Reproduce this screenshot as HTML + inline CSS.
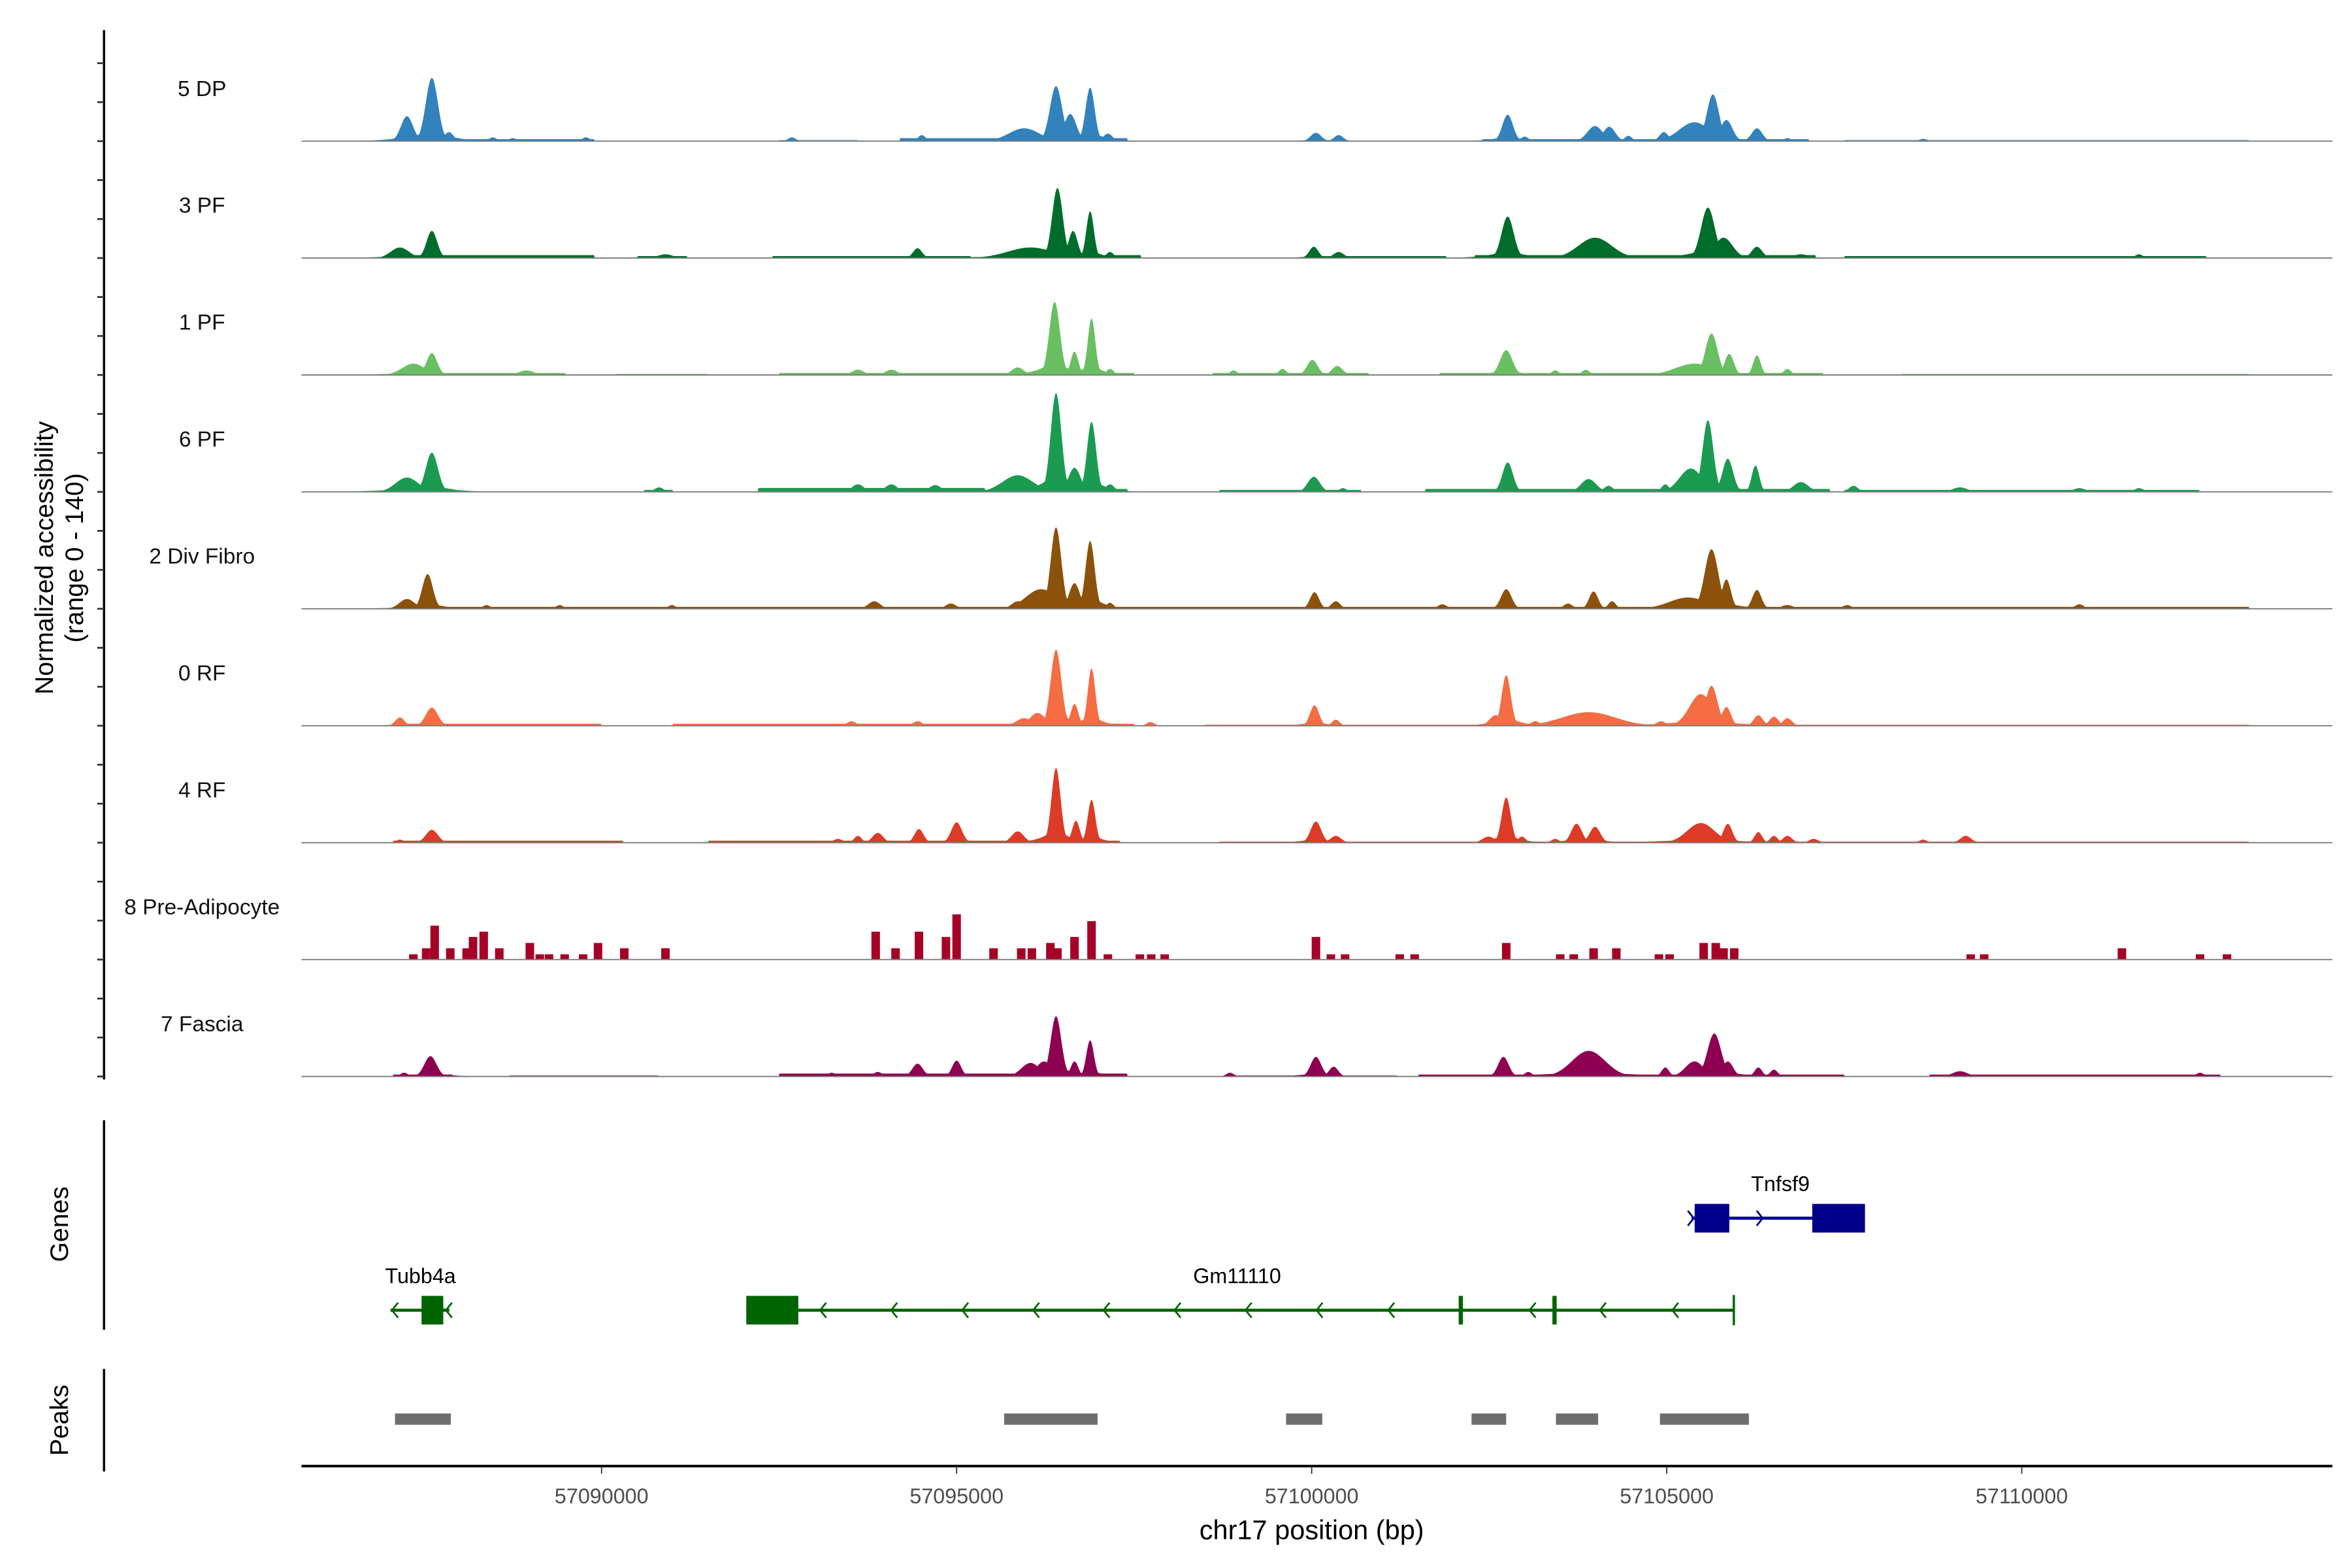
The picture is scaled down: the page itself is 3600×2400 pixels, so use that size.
<!DOCTYPE html>
<html><head><meta charset="utf-8"><style>
html,body{margin:0;padding:0;background:#fff}
svg{display:block}
text{font-family:"Liberation Sans",Arial,sans-serif}
</style></head><body>
<svg id="chart" width="3600" height="2400" viewBox="0 0 1560 1040" xmlns="http://www.w3.org/2000/svg">
<rect width="1560" height="1040" fill="#fff"/>
<g id="tracks"></g>
<g id="axes"></g>
<g id="genes"></g>
<g id="peaks"></g>
</svg>
<script>
const trackNames = ["5 DP","3 PF","1 PF","6 PF","2 Div Fibro","0 RF","4 RF","8 Pre-Adipocyte","7 Fascia"];
const trackColors = ["#3182bd","#006d2c","#6abf63","#1b9a52","#8c510a","#f46d43","#dc3b27","#a50026","#8e0152"];
// peaks: [position kb (offset from 57,000,000), value, width kb]
const dpPeaks = [[87.26,33,0.08],[87.61,84,0.08],[87.85,12,0.06],[88.47,5,0.05],[88.75,4,0.05],[89.78,5,0.05],[92.68,5,0.05],[94.51,8,0.05],[95.95,17,0.2],[96.40,73,0.08],[96.60,36,0.08],[96.88,71,0.06],[97.13,10,0.06],[100.06,11,0.07],[100.38,8,0.06],[102.76,35,0.07],[103.00,6,0.05],[103.99,20,0.1],[104.19,19,0.08],[104.46,7,0.05],[104.96,12,0.06],[105.39,25,0.2],[105.65,62,0.08],[105.84,28,0.08],[106.27,17,0.07],[106.70,4,0.05],[108.61,3,0.05]];
const dpBg = [[87.07,89.9,2],[92.5,93.6,1],[94.2,97.4,3],[99.9,100.5,1],[102.4,107.0,2],[107.5,113.2,1]];
const pf3Peaks = [[87.16,14,0.12],[87.61,36,0.07],[90.90,5,0.1],[94.45,13,0.06],[96.04,14,0.3],[96.42,93,0.07],[96.64,36,0.06],[96.88,62,0.05],[97.16,8,0.05],[100.03,15,0.06],[100.38,8,0.07],[102.76,55,0.08],[103.99,27,0.22],[105.58,67,0.09],[105.80,27,0.12],[106.27,15,0.07],[106.89,5,0.1],[111.65,5,0.05]];
const pf3Bg = [[87.07,89.9,3],[90.5,91.2,2],[92.4,95.2,2],[95.5,97.6,3],[99.9,101.9,2],[102.3,107.1,3],[107.5,112.6,2]];
const pf1Peaks = [[87.35,15,0.15],[87.61,29,0.07],[88.94,6,0.1],[93.61,7,0.08],[94.08,7,0.08],[95.86,10,0.08],[96.38,97,0.07],[96.66,31,0.05],[96.90,75,0.05],[97.16,8,0.05],[98.90,6,0.05],[99.59,8,0.05],[100.01,20,0.07],[100.36,12,0.07],[102.74,33,0.08],[103.43,6,0.05],[103.86,7,0.05],[105.39,15,0.25],[105.63,55,0.08],[105.88,28,0.06],[106.27,26,0.05],[106.70,8,0.05]];
const pf1Bg = [[87.07,89.5,2],[90.2,91.5,1],[92.5,97.5,2],[98.6,100.8,2],[101.8,107.2,2],[108.3,113.2,1]];
const pf6Peaks = [[87.26,19,0.15],[87.61,52,0.08],[90.81,6,0.06],[93.61,10,0.08],[94.08,10,0.08],[94.70,9,0.08],[95.86,22,0.2],[96.40,131,0.07],[96.66,32,0.08],[96.90,93,0.06],[97.16,10,0.06],[100.03,20,0.08],[100.44,5,0.05],[102.76,39,0.07],[103.90,17,0.1],[104.18,8,0.06],[104.98,10,0.05],[105.34,31,0.15],[105.58,95,0.07],[105.86,44,0.07],[106.25,35,0.05],[106.89,13,0.1],[107.63,8,0.06],[109.13,6,0.1],[110.81,5,0.08],[111.65,5,0.06]];
const pf6Bg = [[87.07,87.9,3],[90.6,91.0,2],[92.2,95.4,4],[95.5,97.4,3],[98.7,100.7,2],[101.6,107.3,3],[107.5,112.5,2]];
const divPeaks = [[87.26,13,0.1],[87.55,46,0.07],[88.38,5,0.05],[89.41,5,0.05],[90.99,5,0.05],[93.84,10,0.08],[94.92,7,0.07],[95.86,10,0.08],[96.19,26,0.2],[96.40,108,0.07],[96.66,34,0.07],[96.88,90,0.06],[97.16,8,0.05],[100.04,22,0.06],[100.34,10,0.06],[101.84,6,0.06],[102.74,26,0.07],[103.61,7,0.06],[103.97,23,0.06],[104.23,10,0.05],[105.30,15,0.25],[105.63,79,0.09],[105.84,39,0.06],[106.27,25,0.06],[106.70,5,0.08],[107.54,5,0.06],[110.81,6,0.06]];
const divBg = [[87.07,113.2,2]];
const rf0Peaks = [[87.16,11,0.06],[87.61,24,0.08],[93.52,6,0.06],[94.45,6,0.06],[95.95,10,0.1],[96.14,17,0.1],[96.40,101,0.07],[96.66,29,0.05],[96.90,76,0.05],[97.73,5,0.05],[100.04,27,0.06],[100.34,8,0.05],[102.59,14,0.08],[102.74,67,0.06],[103.15,6,0.06],[103.90,18,0.35],[104.92,6,0.06],[105.48,42,0.15],[105.63,53,0.08],[105.84,25,0.06],[106.29,14,0.06],[106.51,12,0.06],[106.70,10,0.06]];
const rf0Bg = [[87.07,90.0,2],[91.0,97.5,2],[98.5,113.2,1]];
const rf4Peaks = [[87.16,4,0.05],[87.61,17,0.08],[93.33,5,0.06],[93.61,9,0.05],[93.89,13,0.07],[94.47,18,0.06],[95.00,27,0.07],[95.86,15,0.08],[96.40,99,0.06],[96.68,29,0.05],[96.90,57,0.05],[100.06,28,0.07],[100.34,9,0.07],[102.49,8,0.08],[102.74,60,0.06],[102.96,8,0.05],[103.43,5,0.05],[103.73,25,0.07],[103.99,21,0.07],[105.48,26,0.18],[105.86,25,0.06],[106.29,14,0.05],[106.51,9,0.05],[106.70,9,0.06],[107.07,5,0.06],[108.61,4,0.05],[109.21,9,0.07]];
const rf4Bg = [[87.07,90.3,2],[91.5,97.3,2],[98.7,113.2,1]];
// 8 Pre-Adipocyte: blocky coverage [position kb, value]
const preBlocks = [[87.35,7],[87.53,15],[87.65,45],[87.87,15],[88.10,15],[88.19,30],[88.34,37],[88.56,15],[88.99,22],[89.13,7],[89.26,7],[89.48,7],[89.74,7],[89.95,22],[90.32,15],[90.90,15],[93.86,37],[94.14,15],[94.47,37],[94.85,30],[95.00,60],[95.52,15],[95.91,15],[96.06,15],[96.32,22],[96.42,15],[96.66,30],[96.90,51],[97.13,7],[97.58,7],[97.74,7],[97.93,7],[100.06,30],[100.27,7],[100.47,7],[101.24,7],[101.45,7],[102.74,22],[103.50,7],[103.69,7],[103.97,15],[104.29,15],[104.89,7],[105.04,7],[105.52,22],[105.69,22],[105.80,15],[105.95,15],[109.28,7],[109.47,7],[111.41,15],[112.51,7],[112.89,7]];
const fasPeaks = [[87.22,5,0.05],[87.59,27,0.08],[92.68,3,0.05],[93.24,5,0.05],[93.89,6,0.06],[94.45,17,0.07],[95.00,21,0.06],[96.04,18,0.12],[96.23,20,0.1],[96.40,80,0.07],[96.66,20,0.05],[96.88,48,0.05],[98.85,5,0.05],[100.06,26,0.07],[100.31,13,0.06],[102.70,26,0.07],[103.05,6,0.05],[103.90,34,0.22],[104.98,12,0.05],[105.39,20,0.12],[105.67,57,0.09],[105.86,20,0.07],[106.29,12,0.05],[106.51,9,0.05],[109.13,7,0.1],[112.51,5,0.05]];
const fasBg = [[87.07,87.9,2],[88.7,90.8,1],[92.5,97.4,3],[98.8,101.2,1],[101.5,107.5,2],[108.7,112.8,2]];
const trackPeaks = [dpPeaks,pf3Peaks,pf1Peaks,pf6Peaks,divPeaks,rf0Peaks,rf4Peaks,null,fasPeaks];
const trackBg = [dpBg,pf3Bg,pf1Bg,pf6Bg,divBg,rf0Bg,rf4Bg,null,fasBg];
// genes and peaks (kb)
const geneNames = ["Tubb4a","Gm11110","Tnfsf9"];
const geneSpans = [[87.028,87.856],[92.038,105.945],[105.35,107.79]];
const geneExons = [[[87.465,87.771]],[[92.038,92.771],[102.07,102.13],[103.39,103.45]],[[105.393,105.881],[107.049,107.792]]];
const gm11110Arrows = [93.10,94.10,95.10,96.10,97.09,98.09,99.09,100.09,101.10,103.09,104.08,105.10];
const peakRegions = [[87.091,87.877],[95.669,96.985],[99.639,100.149],[102.251,102.739],[103.440,104.034],[104.904,106.157]];
const xTicks = [90,95,100,105,110];
const xTickLabels = ["57090000","57095000","57100000","57105000","57110000"];
const yMax = 140;

const NS="http://www.w3.org/2000/svg";
const X0=200,X1=1547,KB0=85.775,KB1=114.374;
function xs(kb){return X0+(kb-KB0)/(KB1-KB0)*(X1-X0);}
function xinv(x){return KB0+(x-X0)/(X1-X0)*(KB1-KB0);}
const trackH=70;
function ys(v,base){return base - v/yMax*trackH;}
function mk(tag,attrs,parent){const e=document.createElementNS(NS,tag);for(const k in attrs)e.setAttribute(k,attrs[k]);parent.appendChild(e);return e;}
const tracksG=document.getElementById('tracks');
const axesG=document.getElementById('axes');
const genesG=document.getElementById('genes');
const peaksG=document.getElementById('peaks');

for(let i=0;i<trackNames.length;i++){
  const base=93.6+i*77.55;
  const g=mk('g',{},tracksG);
  
  
  const lab=mk('text',{x:134,y:base-30,'text-anchor':'middle','font-size':14.5,fill:'#111'},g);
  lab.textContent=trackNames[i];
  
  
  if(trackPeaks[i]){
    const pk=trackPeaks[i],bg=trackBg[i];
    let d='M'+X0+','+base;
    for(let x=X0;x<=X1;x+=0.5){
      const kb=xinv(x);let v=0;
      for(const s of bg){if(kb>=s[0]&&kb<=s[1])v=Math.max(v,s[2]*1.3);}
      let sum=0;
      for(const p of pk){const dx=Math.abs(kb-p[0]);if(dx<p[2]*10){
        const w=p[2]*1.5;
        const gs=p[1]*Math.exp(-(dx/w)*(dx/w));
        const sh=p[1]*0.22*Math.exp(-dx/(p[2]*3));
        const c=Math.max(gs,sh);
        v=Math.max(v,c);sum+=c*0.25;
      }}
      v=Math.max(v,Math.min(sum,v*1.3));
      d+='L'+x.toFixed(1)+','+ys(v,base).toFixed(2);
    }
    d+='L'+X1+','+base+'Z';
    const a=mk('path',{d:d,fill:trackColors[i]},g);
    
    
  } else {
    for(const b of preBlocks){
      const r=mk('rect',{x:xs(b[0]-0.06),y:ys(b[1],base),width:xs(b[0]+0.06)-xs(b[0]-0.06),height:base-ys(b[1],base),fill:trackColors[i]},g);
      
      
    }
  }
  const bl=mk('line',{x1:X0,x2:X1,y1:base,y2:base,stroke:'#7a7a7a','stroke-width':0.8},g);
  
  
}

function vline(y1,y2,name){const l=mk('line',{x1:69,x2:69,y1:y1,y2:y2,stroke:'#000','stroke-width':1.5},axesG);}
vline(20,716,'y-axis-line');
vline(743,882,'genes-axis-line');
vline(908,976,'peaks-axis-line');
for(let k=-2;k<=24;k++){const y=93.6+k*25.85;const t=mk('line',{x1:64.5,x2:69,y1:y,y2:y,stroke:'#333','stroke-width':1.2},axesG);}
const yt=mk('text',{transform:'translate(35,370) rotate(-90)','text-anchor':'middle','font-size':17,fill:'#000'},axesG);
yt.textContent='Normalized accessibility';


const yt2=mk('text',{transform:'translate(55,370) rotate(-90)','text-anchor':'middle','font-size':17,fill:'#000'},axesG);
yt2.textContent='(range 0 - 140)';


const gt=mk('text',{transform:'translate(45,812) rotate(-90)','text-anchor':'middle','font-size':17,fill:'#000'},axesG);
gt.textContent='Genes';


const pt=mk('text',{transform:'translate(45,942) rotate(-90)','text-anchor':'middle','font-size':17,fill:'#000'},axesG);
pt.textContent='Peaks';



const xa=mk('line',{x1:X0,x2:X1,y1:972.4,y2:972.4,stroke:'#000','stroke-width':1.7},axesG);


for(let i=0;i<xTicks.length;i++){
  const x=xs(xTicks[i]);
  const t=mk('line',{x1:x,x2:x,y1:972.4,y2:977.5,stroke:'#333','stroke-width':0.8},axesG);
  
  
  const l=mk('text',{x:x,y:997,'text-anchor':'middle','font-size':14,fill:'#4d4d4d'},axesG);
  l.textContent=xTickLabels[i];
  
  
}
const xt=mk('text',{x:870,y:1021,'text-anchor':'middle','font-size':18,fill:'#000'},axesG);
xt.textContent='chr17 position (bp)';



const geneY=[869,869,808];
const geneCol=["#006400","#006400","#00008b"];
const labelY=[851,851,790];
for(let i=0;i<geneNames.length;i++){
  const g=mk('g',{},genesG);
  
  
  const y=geneY[i],c=geneCol[i];
  mk('line',{x1:xs(geneSpans[i][0]),x2:xs(geneSpans[i][1]),y1:y,y2:y,stroke:c,'stroke-width':2},g);
  for(const e of geneExons[i]){
    const w=Math.max(xs(e[1])-xs(e[0]),2.5);
    mk('rect',{x:xs(e[0]),y:y-9.5,width:w,height:19,fill:c},g);
  }
  const tx=mk('text',{x:(i==0?xs(87.45):i==1?xs(98.95):xs(106.6)),y:labelY[i],'text-anchor':'middle','font-size':14,fill:'#000'},g);
  tx.textContent=geneNames[i];
  
  
}
function chevron(kb,y,dir,c){const x=xs(kb);const p=mk('path',{d:`M${x+3*dir},${y-5} L${x-1*dir},${y} L${x+3*dir},${y+5}`,fill:'none',stroke:c,'stroke-width':1.2},genesG);}
for(const a of gm11110Arrows)chevron(a,869,1,"#006400");
chevron(87.07,869,1,"#006400");chevron(87.83,869,1,"#006400");
chevron(105.36,808,-1,"#00008b");chevron(106.33,808,-1,"#00008b");
const endTick=mk('line',{x1:xs(105.945),x2:xs(105.945),y1:859,y2:879,stroke:'#006400','stroke-width':1.5},genesG);



for(const p of peakRegions){
  const r=mk('rect',{x:xs(p[0]),y:937.5,width:xs(p[1])-xs(p[0]),height:7.5,fill:'#6e6e6e'},peaksG);
  
  
}
</script>
</body></html>
